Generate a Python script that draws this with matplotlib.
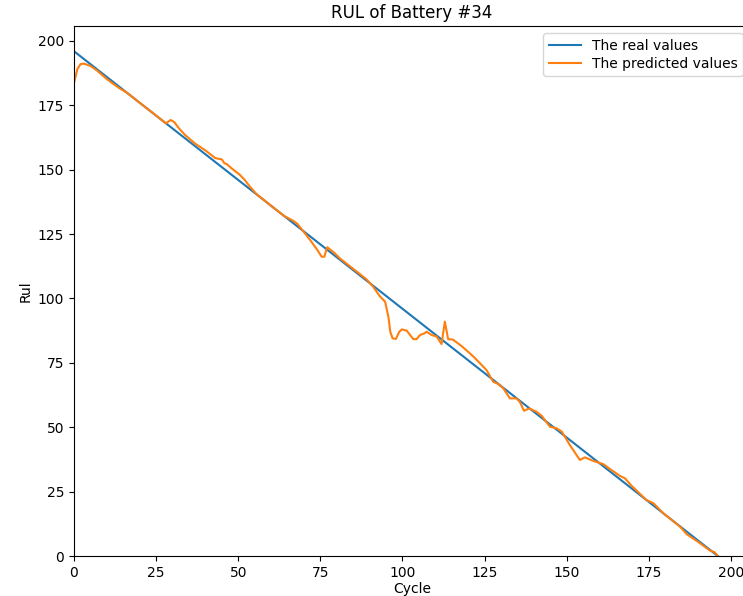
import numpy as np
from matplotlib import pyplot as plt

# real RUL: counts down from 196 to 0
cycles = np.arange(0, 197)
real_rul = 196 - cycles

# predicted RUL
pred_cycles = [0, 1, 2, 3, 5, 7, 10, 12, 14, 16, 20, 24, 28, 29.4, 30.5, 32, 33.8,
               37, 40, 43, 45, 45.8, 46.5, 48, 50.5, 52, 53.5, 55.6, 60, 64, 66.7,
               68, 70.3, 72, 74, 75.4, 76.2, 77.1, 79, 81, 85, 89, 91.1, 93.2, 94.7,
               95.7, 96.3, 97, 98, 99, 99.8, 101.3, 102.5, 103.3, 104.3, 105.3, 106.8,
               107.3, 108.9, 110.4, 111.9, 112.9, 113.9, 115.4, 118, 120.5, 122.1,
               124.6, 125.6, 127.6, 129.1, 130.7, 132.7, 134.7, 135.7, 137.0, 138.6,
               140.8, 142.4, 144.9, 146.9, 148.5, 151, 154.0, 155.6, 158.1, 161.1,
               163.5, 166.2, 167.7, 169.8, 172, 174.3, 176.4, 179.4, 184.5, 186.5,
               190, 193.6, 195, 196]
pred_rul = [183.6, 189, 191.0, 191.2, 190.3, 188.5, 185.2, 183.3, 181.5, 180, 176, 172,
            168, 169.3, 168.5, 166, 163.5, 160, 157.5, 154.5, 154.0, 152.5, 152.2,
            150.5, 148, 146, 143.5, 140.5, 136, 132, 130.2, 129, 125.3, 122.5, 119,
            116.2, 116.2, 119.9, 118, 115.5, 111.5, 107.5, 104.5, 100.7, 98.8, 93,
            87, 84.5, 84.3, 87, 88, 87.5, 85.5, 84.2, 84.2, 85.8, 86.5, 87.1, 85.8,
            85.2, 82.3, 91.0, 84.2, 84.0, 81.5, 78.7, 76.8, 73.5, 72.2, 67.7, 66.8,
            65.1, 61.2, 61.2, 59.9, 56.4, 57.3, 56.0, 54.4, 50.2, 49.6, 48.3, 43,
            37.3, 38.3, 36.9, 35.7, 33.5, 31.1, 30.2, 27.2, 24.5, 21.7, 20.5, 16.6,
            11.4, 8.5, 5.5, 2.1, 1.5, 0]

if __name__ == "__main__":
    fig = plt.figure(figsize=(7.43, 5.96), dpi=100)
    ax = fig.add_axes([74 / 743, 40 / 596, 676 / 743, 530 / 596])
    ax.plot(cycles, real_rul, label='The real values')
    ax.plot(pred_cycles, pred_rul, label='The predicted values')
    ax.set_xlim(0, 205.8)
    ax.set_ylim(0, 205.8)
    ax.set_title('RUL of Battery #34')
    ax.set_xlabel('Cycle', labelpad=1.5)
    ax.set_ylabel('Rul')
    ax.legend(loc='upper right', labelspacing=0.3, handlelength=2.3)
    fig.savefig('out.png', dpi=100)
